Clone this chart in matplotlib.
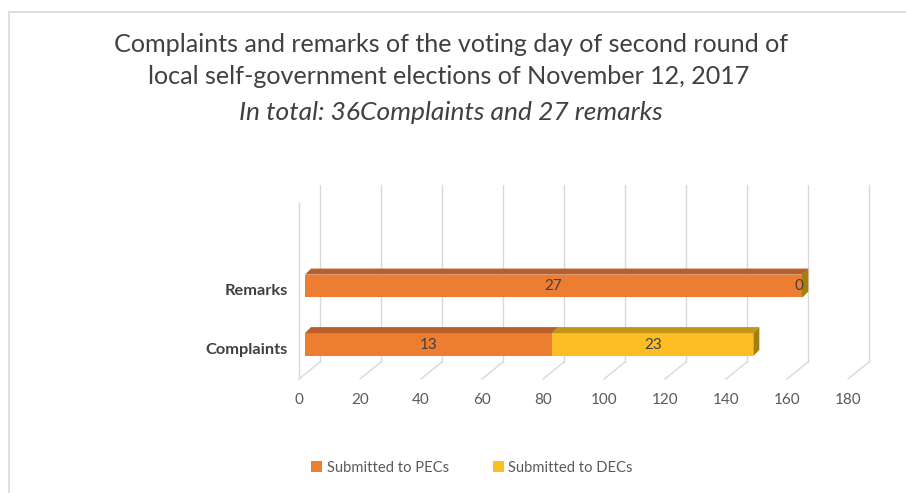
import matplotlib
matplotlib.use("Agg")
import matplotlib.pyplot as plt
import matplotlib.transforms as mtrans
from matplotlib.patches import Polygon, Rectangle, Patch

# ---------------- data ----------------
categories = ["Complaints", "Remarks"]
pec_values = [81, 163]          # bar lengths
dec_values = [66, 0]
pec_labels = ["13", "27"]       # data labels printed on the bars
dec_labels = ["23", "0"]
x_ticks = [0, 20, 40, 60, 80, 100, 120, 140, 160, 180]
series_names = ["Submitted to PECs", "Submitted to DECs"]
title_lines = ["Complaints and remarks of the voting day of second round of",
               "local self-government elections of November 12, 2017"]
subtitle = "In total: 36Complaints and 27 remarks"

# ---------------- style ----------------
FONT = "Lato"
W, H = 906, 493
C_PEC = ("#ED7D31", "#BC5E27", "#A9521C")   # front, top, side
C_DEC = ("#FCBE22", "#C39519", "#A2800F")
GRID = "#D9D9D9"
TXT = "#404040"
DEPTH = (21, 17)      # floor depth in pixels
BAR_OFF = (6, 0)      # bar front face offset from front plane
BAR_DEPTH = (6, 6)    # bar depth in pixels
BAR_H = 0.39

fig = plt.figure(figsize=(W / 100, H / 100), dpi=100)
fig.patch.set_facecolor("white")

def fx(px):
    return px / W

def fy(py):
    return 1 - py / H

# outer frame
fig.patches.append(Rectangle((fx(9), fy(H + 5)), 1.0, fy(12) - fy(H + 5),
                             transform=fig.transFigure, fill=False,
                             edgecolor=GRID, lw=1.2))

ax = fig.add_axes([fx(299), fy(379), fx(848) - fx(299), fy(202) - fy(379)])
ax.set_xlim(0, 180)
ax.set_ylim(-0.5897, 2.4359)
ax.axis("off")

def off(dx, dy):
    return ax.transData + mtrans.Affine2D().translate(dx, dy)

def shifted(x, y, dx, dy):
    X, Y = ax.transData.transform((x, y))
    return tuple(ax.transData.inverted().transform((X + dx, Y + dy)))

ymin, ymax = ax.get_ylim()

# left wall front edge
ax.plot([0, 0], [ymin, ymax], color=GRID, lw=1.0, solid_capstyle="butt",
        zorder=0, clip_on=False)
# back gridlines and floor diagonals
for v in x_ticks:
    ax.plot([v, v], [ymin, ymax], color=GRID, lw=1.0, transform=off(*DEPTH),
            zorder=0, clip_on=False)
    b = shifted(v, ymin, *DEPTH)
    ax.plot([v, b[0]], [ymin, b[1]], color=GRID, lw=1.0, zorder=0, clip_on=False)
    ax.text(v, ymin, str(v), transform=off(0, -21), ha="center", va="center",
            fontsize=11, color="#595959", family=FONT)

ypos = list(range(len(categories)))

def bar3d(y, left, width, cols, label):
    front, top, side = cols
    t = off(*BAR_OFF)
    yb, yt = y - BAR_H / 2, y + BAR_H / 2
    right = left + width
    if width > 0:
        ax.add_patch(Rectangle((left, yb), width, BAR_H, transform=t,
                               facecolor=front, edgecolor="none", zorder=2,
                               clip_on=False))
        ax.add_patch(Polygon([(left, yt), (right, yt),
                              shifted(right, yt, *BAR_DEPTH),
                              shifted(left, yt, *BAR_DEPTH)],
                             closed=True, transform=t, facecolor=top,
                             edgecolor="none", zorder=2, clip_on=False))
    ax.add_patch(Polygon([(right, yb), (right, yt),
                          shifted(right, yt, *BAR_DEPTH),
                          shifted(right, yb, *BAR_DEPTH)],
                         closed=True, transform=t, facecolor=side,
                         edgecolor="none", zorder=2, clip_on=False))
    ax.text(left + width / 2 if width > 0 else right - 1.2, y, label,
            transform=t, ha="center", va="center", fontsize=11,
            color=TXT, family=FONT, zorder=3)

for y, p, d, pl, dl in zip(ypos, pec_values, dec_values, pec_labels, dec_labels):
    bar3d(y, 0, p, C_PEC, pl)
    bar3d(y, p, d, C_DEC, dl)

for y, c in zip(ypos, categories):
    ax.text(0, y, c, transform=off(-11, -5), ha="right", va="center",
            fontsize=11.8, fontweight="bold", color=TXT, family=FONT)

# titles
fig.text(fx(451), fy(45), title_lines[0], ha="center", va="center",
         fontsize=18.1, color="#404040", family=FONT)
fig.text(fx(449), fy(77), title_lines[1], ha="center", va="center",
         fontsize=18.1, color="#404040", family=FONT)
fig.text(fx(451), fy(112), subtitle, ha="center", va="center",
         fontsize=19, style="italic", color="#404040", family=FONT)

handles = [Patch(facecolor=C_PEC[0]), Patch(facecolor=C_DEC[0])]
fig.legend(handles, series_names, loc="center", bbox_to_anchor=(fx(472), fy(468)),
           ncol=2, frameon=False, handlelength=0.75, handleheight=0.75,
           handletextpad=0.3, columnspacing=3.0,
           prop={"family": FONT, "size": 10.6}, labelcolor="#595959")

fig.savefig("out.png", dpi=100)
